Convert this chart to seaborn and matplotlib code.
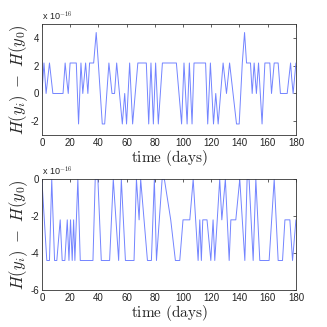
import numpy as np
import matplotlib
matplotlib.use("Agg")
import matplotlib.pyplot as plt
import seaborn as sns
from matplotlib.ticker import FuncFormatter

sns.set_style("white")
plt.rcParams["mathtext.fontset"] = "cm"
plt.rcParams["font.family"] = ["Liberation Sans", "DejaVu Sans"]

# ---------------------------------------------------------
# Data (values in units of 1e-16)
# ---------------------------------------------------------
top_days = [0, 1.5, 3, 5.4, 7.8, 15, 16.5, 17.5, 18.7, 20, 24.4, 26, 27.7, 29, 31,
            32.6, 33.8, 36.7, 38.5, 40, 42.8, 44.5, 47.5, 49.7, 51.5, 53, 57, 58.7,
            60, 62.2, 64.3, 68, 74, 75.7, 77.3, 79, 80.6, 82.5, 85.4, 95.3, 99,
            100.7, 102.9, 104.5, 106.4, 107.8, 116, 117.5, 119.4, 121.6, 123.2,
            124.9, 128.4, 130.8, 133, 137.9, 139.8, 142, 143.6, 145, 147.8, 149,
            150.4, 152, 153.5, 156, 158, 161.5, 162.7, 164.6, 167.4, 169, 173.8,
            176.2, 177, 178, 180]
top_vals = [0, 2.2, 0, 2.2, 0, 0, 2.2, 1.1, 0, 2.2, 2.2, -2.2, 2.2, 0, 2.2,
            0, 2.2, 2.2, 4.4, 2.2, -2.2, -2.2, 2.2, 0, 0, 2.2, -2.2, 0,
            -2.2, 2.2, -2.2, 2.2, 2.2, -2.2, 2.2, -2.2, 2.2, -2.2, 2.2, 2.2, -2.2,
            2.2, -2.2, 2.2, -2.2, 2.2, 2.2, -2.2, 2.2, -2.2, 0,
            -2.2, 2.2, 0, 2.2, -2.2, -2.2, 2.2, 4.4, 2.2, 2.2, 0,
            2.2, 0, 2.2, -2.2, 2.2, 2.2, 0, 2.2, 2.2, 0, 0,
            2.2, 1.1, 0, 2.2]

bot_days = [0, 3.5, 5.4, 7, 9, 10.6, 13, 14.4, 16.3, 18, 19.2, 20.3, 21.5, 22.5,
            23.4, 25.5, 27.2, 36.2, 37.8, 39.7, 42.1, 48, 50.6, 54.4, 56.3, 59.2,
            65.3, 67, 68.9, 70, 74.8, 77.6, 79.7, 81.2, 85.2, 86.8, 91.3, 94.6,
            97.7, 100, 104.8, 107.2, 110.7, 111.9, 113, 114, 117, 119.7, 121.3,
            122.5, 126, 127.5, 130, 132.7, 133.9, 137.4, 140.2, 143.8, 145.4,
            146.8, 149.7, 151.6, 154.4, 161, 164.6, 167.4, 170.5, 172.2, 175.7,
            177.6, 180]
bot_vals = [0, -4.4, -4.4, 0, -4.4, -4.4, -2.2, -4.4, -4.4, -2.2, -4.4, -2.2, -4.4, -2.2,
            -4.4, 0, -4.4, -4.4, 0, 0, -4.4, -4.4, 0, -4.4, 0, -4.4,
            -4.4, 0, -2.2, 0, -4.4, -4.4, 0, -4.4, 0, 0, -2.2, -4.4,
            -4.4, -2.2, -2.2, 0, -4.4, -2.2, -4.4, -2.2, -2.2, -4.4, -2.2,
            -4.4, 0, -2.2, 0, -4.4, -2.2, -2.2, 0, -4.4, 0,
            0, -4.4, 0, -4.4, -4.4, 0, -4.4, -4.4, -2.2, -2.2,
            -4.4, -2.2]

line_color = "#7384ff"

fig = plt.figure(figsize=(3.27, 3.27), dpi=100)
ax1 = fig.add_axes([0.128, 0.587, 0.777, 0.339])
ax2 = fig.add_axes([0.128, 0.113, 0.777, 0.339])

panels = [
    (ax1, top_days, top_vals, (-3e-16, 5e-16), [-2e-16, 0, 2e-16, 4e-16]),
    (ax2, bot_days, bot_vals, (-6e-16, 0), [-6e-16, -4e-16, -2e-16, 0]),
]

for ax, days, vals, ylim, yticks in panels:
    sns.lineplot(x=days, y=np.array(vals) * 1e-16, ax=ax, color=line_color,
                 linewidth=0.7, estimator=None, sort=False)
    ax.set_xlim(0, 180)
    ax.set_ylim(*ylim)
    ax.set_xticks(range(0, 181, 20))
    ax.set_yticks(yticks)
    ax.yaxis.set_major_formatter(FuncFormatter(lambda v, p: f"{v * 1e16:.0f}"))
    ax.text(0.0, 1.015, r"x 10$^{-16}$", transform=ax.transAxes, fontsize=6.5,
            ha="left", va="bottom", color="#222222")
    ax.tick_params(direction="in", length=2.5, width=0.5, labelsize=7,
                   top=True, right=True, pad=2, colors="#222222")
    for s in ax.spines.values():
        s.set_linewidth(0.6)
        s.set_color("#333333")
    ax.set_xlabel(r"$\mathrm{time\ (days)}$", fontsize=11, labelpad=0)
    ax.set_ylabel(r"$H(y_i)\ -\ H(y_0)$", fontsize=12, labelpad=0)

fig.savefig("out.png", dpi=100)
